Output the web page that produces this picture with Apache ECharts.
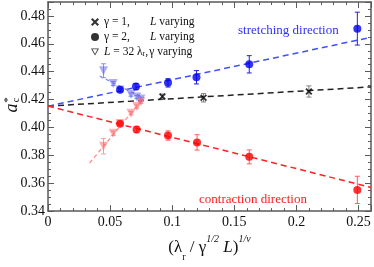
<!DOCTYPE html>
<html>
<head>
<meta charset="utf-8">
<script src="https://cdn.jsdelivr.net/npm/echarts@6/dist/echarts.min.js"></script>
<style>html,body{margin:0;padding:0;background:#fff}#c{width:374px;height:267px}</style>
</head>
<body>
<div id="c"></div>
<script>
// ---- data ----
const blueCircX   = [0.058, 0.0708, 0.0966, 0.1195, 0.162, 0.249];
const blueCircY   = [0.4270, 0.4293, 0.4320, 0.4360, 0.4453, 0.4709];
const blueCircErr = [0.0012, 0.0022, 0.0030, 0.0048, 0.0062, 0.0118];

const redCircX    = [0.058, 0.0713, 0.0966, 0.1200, 0.162, 0.249];
const redCircY    = [0.4027, 0.3985, 0.3942, 0.3893, 0.3789, 0.3552];
const redCircErr  = [0.0012, 0.0022, 0.0033, 0.0055, 0.0050, 0.0098];

const crossX      = [0.0921, 0.1252, 0.2100];
const crossY      = [0.4222, 0.4213, 0.4258];
const crossErr    = [0.0018, 0.0030, 0.0040];

const triX        = [0.0447, 0.0525, 0.0580, 0.0668, 0.0715, 0.0748];
const triBlueY    = [0.4407, 0.4315, 0.4268, 0.4236, 0.4218, 0.4205];
const triBlueErr  = [0.0050, 0.0015, 0.0012, 0.0012, 0.0012, 0.0012];
const triRedY     = [0.3865, 0.3958, 0.4029, 0.4102, 0.4150, 0.4185];
const triRedErr   = [0.0055, 0.0015, 0.0012, 0.0012, 0.0012, 0.0012];

const fitX        = [0, 0.26];
const fitBlueY    = [0.4153, 0.4647];
const fitBlackY   = [0.4153, 0.4291];
const fitRedY     = [0.4153, 0.3570];
const triBlueLineX = [0.0415, 0.0770];
const triBlueLineY = [0.4369, 0.4210];
const triRedLineX  = [0.0335, 0.0755];
const triRedLineY  = [0.3745, 0.4195];

const xTickLabels = ['0', '0.05', '0.1', '0.15', '0.2', '0.25'];
const yTickLabels = ['0.34', '0.36', '0.38', '0.40', '0.42', '0.44', '0.46', '0.48'];

// ---- helpers ----
const zip2 = (a, b) => a.map((v, i) => [v, b[i]]);
const zip3 = (a, b, c) => a.map((v, i) => [v, b[i], c[i]]);
const FONT = 'Liberation Serif';
const AX = '#5a5a5a';

function errSeries(data, color, capW) {
  return {
    type: 'custom', xAxisIndex: 0, yAxisIndex: 0, z: 3,
    data: data, encode: {x: 0, y: 1},
    renderItem: function (params, api) {
      const x = api.value(0), y = api.value(1), e = api.value(2);
      const p1 = api.coord([x, y + e]), p2 = api.coord([x, y - e]);
      const st = {stroke: color, lineWidth: 1};
      return {type: 'group', children: [
        {type: 'line', shape: {x1: p1[0], y1: p1[1], x2: p2[0], y2: p2[1]}, style: st},
        {type: 'line', shape: {x1: p1[0] - capW, y1: p1[1], x2: p1[0] + capW, y2: p1[1]}, style: st},
        {type: 'line', shape: {x1: p2[0] - capW, y1: p2[1], x2: p2[0] + capW, y2: p2[1]}, style: st}
      ]};
    }
  };
}
function fitLine(xs, ys, color, width, dash) {
  return {type: 'line', xAxisIndex: 0, yAxisIndex: 0, z: 2, data: zip2(xs, ys), symbol: 'none',
    silent: true, lineStyle: {color: color, width: width, type: dash}};
}

function xAx(pos, interval, len, labels, line) {
  return {type: 'value', position: pos, min: 0, max: 0.26, interval: interval,
    axisLine: {show: line, onZero: false, lineStyle: {color: AX, width: 1.5}},
    axisTick: {show: true, inside: true, length: len, lineStyle: {color: AX, width: 1}},
    splitLine: {show: false},
    axisLabel: {show: labels, margin: 4, color: '#111', fontFamily: FONT, fontSize: 14,
      formatter: function (v) { const k = Math.round(v * 100); return (k % 5 === 0) ? xTickLabels[k / 5] : ''; }}
  };
}
function yAx(pos, interval, len, labels, line) {
  return {type: 'value', position: pos, min: 0.34, max: 0.49, interval: interval,
    axisLine: {show: line, onZero: false, lineStyle: {color: AX, width: 1.5}},
    axisTick: {show: true, inside: true, length: len, lineStyle: {color: AX, width: 1}},
    splitLine: {show: false},
    axisLabel: {show: labels, margin: 3, color: '#111', fontFamily: FONT, fontSize: 14,
      formatter: function (v) { const k = Math.round(v * 1000); return (k % 20 === 0 && k <= 480) ? yTickLabels[(k - 340) / 20] : ''; }}
  };
}

const crossPath = 'path://M0,1.8 L1.8,0 L5,3.2 L8.2,0 L10,1.8 L6.8,5 L10,8.2 L8.2,10 L5,6.8 L1.8,10 L0,8.2 L3.2,5 Z';
const triDownPath = 'path://M0,0 L10,0 L5,9 Z';
const triOpenPath = 'path://M0,0 L10,0 L5,9 Z M1.8,1.1 L5,6.9 L8.2,1.1 Z';

const chart = echarts.init(document.getElementById('c'), null, {renderer: 'canvas'});
const option = {
  animation: false,
  backgroundColor: '#fff',
  grid: {left: 48, right: 1, top: 2, bottom: 40},
  xAxis: [
    Object.assign(xAx('bottom', 0.01, 3, true, true), {
      name: '{p|(λ}{sub|r}{p| / γ}{sup|1/2}{pi| L}{p|)}{sup|1/ν}',
      nameLocation: 'middle', nameGap: 15,
      nameTextStyle: {fontFamily: FONT, color: '#111', rich: {
        p: {fontFamily: FONT, fontSize: 17, lineHeight: 28, color: '#111'},
        pi: {fontFamily: FONT, fontSize: 17, fontStyle: 'italic', lineHeight: 28, color: '#111'},
        sub: {fontFamily: FONT, fontSize: 10, lineHeight: 17, verticalAlign: 'bottom', color: '#111'},
        sup: {fontFamily: FONT, fontSize: 10, fontStyle: 'italic', lineHeight: 10, verticalAlign: 'top', color: '#111'}
      }}
    }),
    xAx('bottom', 0.05, 6, false, false),
    xAx('top', 0.01, 3, false, true),
    xAx('top', 0.05, 6, false, false)
  ],
  yAxis: [
    yAx('left', 0.005, 3, true, true),
    yAx('left', 0.02, 6, false, false),
    yAx('right', 0.005, 3, false, true),
    yAx('right', 0.02, 6, false, false)
  ],
  legend: {
    show: true, selectedMode: false, orient: 'vertical', left: 86, top: 11,
    itemWidth: 8, itemHeight: 8, itemGap: 3,
    data: [
      {name: 'g1', icon: crossPath},
      {name: 'g2', icon: 'circle'},
      {name: 'g3', icon: triOpenPath}
    ],
    textStyle: {fontFamily: FONT, fontSize: 11.5, color: '#111', rich: {
      t: {fontFamily: FONT, fontSize: 11.5, width: 46, lineHeight: 12},
      t3: {fontFamily: FONT, fontSize: 11.5, lineHeight: 12},
      c3: {fontFamily: FONT, fontSize: 11.5, lineHeight: 12, width: 4},
      i: {fontFamily: FONT, fontSize: 11.5, fontStyle: 'italic', lineHeight: 12},
      n: {fontFamily: FONT, fontSize: 11.5, lineHeight: 12},
      s: {fontFamily: FONT, fontSize: 8, lineHeight: 10, verticalAlign: 'bottom'}
    }},
    formatter: function (name) {
      if (name === 'g1') return '{t|γ = 1,}{i|L}{n| varying}';
      if (name === 'g2') return '{t|γ = 2,}{i|L}{n| varying}';
      return '{i|L}{t3| = 32 λ}{s|r}{c3|,}{n|γ varying}';
    }
  },
  graphic: [
    {type: 'text', left: 238, top: 24, style: {text: 'stretching direction', fill: '#3030ff', font: '13px "Liberation Serif"'}},
    {type: 'text', left: 199, top: 193, style: {text: 'contraction direction', fill: '#ff2020', font: '13px "Liberation Serif"'}},
    {type: 'group', x: 12, y: 108, rotation: Math.PI / 2, children: [
      {type: 'text', x: 0, y: 0, style: {text: 'a', fill: '#111', font: 'italic 18px "Liberation Serif"', align: 'center', verticalAlign: 'middle'}},
      {type: 'text', x: 8, y: -4, style: {text: '*', fill: '#111', font: '11px "Liberation Serif"', align: 'center', verticalAlign: 'middle'}},
      {type: 'text', x: 8, y: 4, style: {text: 'c', fill: '#111', font: '10px "Liberation Serif"', align: 'center', verticalAlign: 'middle'}}
    ]}
  ],
  series: [
    // legend-only series
    {name: 'g1', type: 'scatter', data: [], symbol: crossPath, itemStyle: {color: '#000'}},
    {name: 'g2', type: 'scatter', data: [], symbol: 'circle', itemStyle: {color: '#000'}},
    {name: 'g3', type: 'scatter', data: [], symbol: triOpenPath, itemStyle: {color: '#000'}},

    fitLine(fitX, fitBlackY, '#222', 1.5, [6, 4]),
    fitLine(fitX, fitBlueY, '#4050ff', 1.5, [6, 4]),
    fitLine(fitX, fitRedY, '#ff2020', 1.5, [6, 4]),
    fitLine(triBlueLineX, triBlueLineY, '#8c8cf0', 1.3, [4, 3]),
    fitLine(triRedLineX, triRedLineY, '#ff8c8c', 1.3, [4, 3]),

    errSeries(zip3(triX, triBlueY, triBlueErr), '#9090f0', 2.5),
    errSeries(zip3(triX, triRedY, triRedErr), '#ff9a9a', 2.5),
    errSeries(zip3(crossX, crossY, crossErr), '#808080', 2.5),
    errSeries(zip3(blueCircX, blueCircY, blueCircErr), '#2020e0', 2.5),
    errSeries(zip3(redCircX, redCircY, redCircErr), '#ff5a5a', 2.5),

    {name: 'triB', type: 'scatter', xAxisIndex: 0, yAxisIndex: 0, z: 4, data: zip2(triX, triBlueY),
      symbol: triDownPath, symbolSize: 9, itemStyle: {color: 'rgba(100,100,235,0.65)'}},
    {name: 'triR', type: 'scatter', xAxisIndex: 0, yAxisIndex: 0, z: 4, data: zip2(triX, triRedY),
      symbol: triDownPath, symbolSize: 9, itemStyle: {color: 'rgba(255,90,90,0.6)'}},
    {name: 'cross', type: 'scatter', xAxisIndex: 0, yAxisIndex: 0, z: 5, data: zip2(crossX, crossY),
      symbol: crossPath, symbolSize: 7, itemStyle: {color: '#000'}},
    {name: 'blueC', type: 'scatter', xAxisIndex: 0, yAxisIndex: 0, z: 5, data: zip2(blueCircX, blueCircY),
      symbol: 'circle', symbolSize: 8, itemStyle: {color: '#0000ee'}},
    {name: 'redC', type: 'scatter', xAxisIndex: 0, yAxisIndex: 0, z: 5, data: zip2(redCircX, redCircY),
      symbol: 'circle', symbolSize: 8, itemStyle: {color: '#ff0000'}}
  ]
};
chart.setOption(option);
</script>
</body>
</html>
